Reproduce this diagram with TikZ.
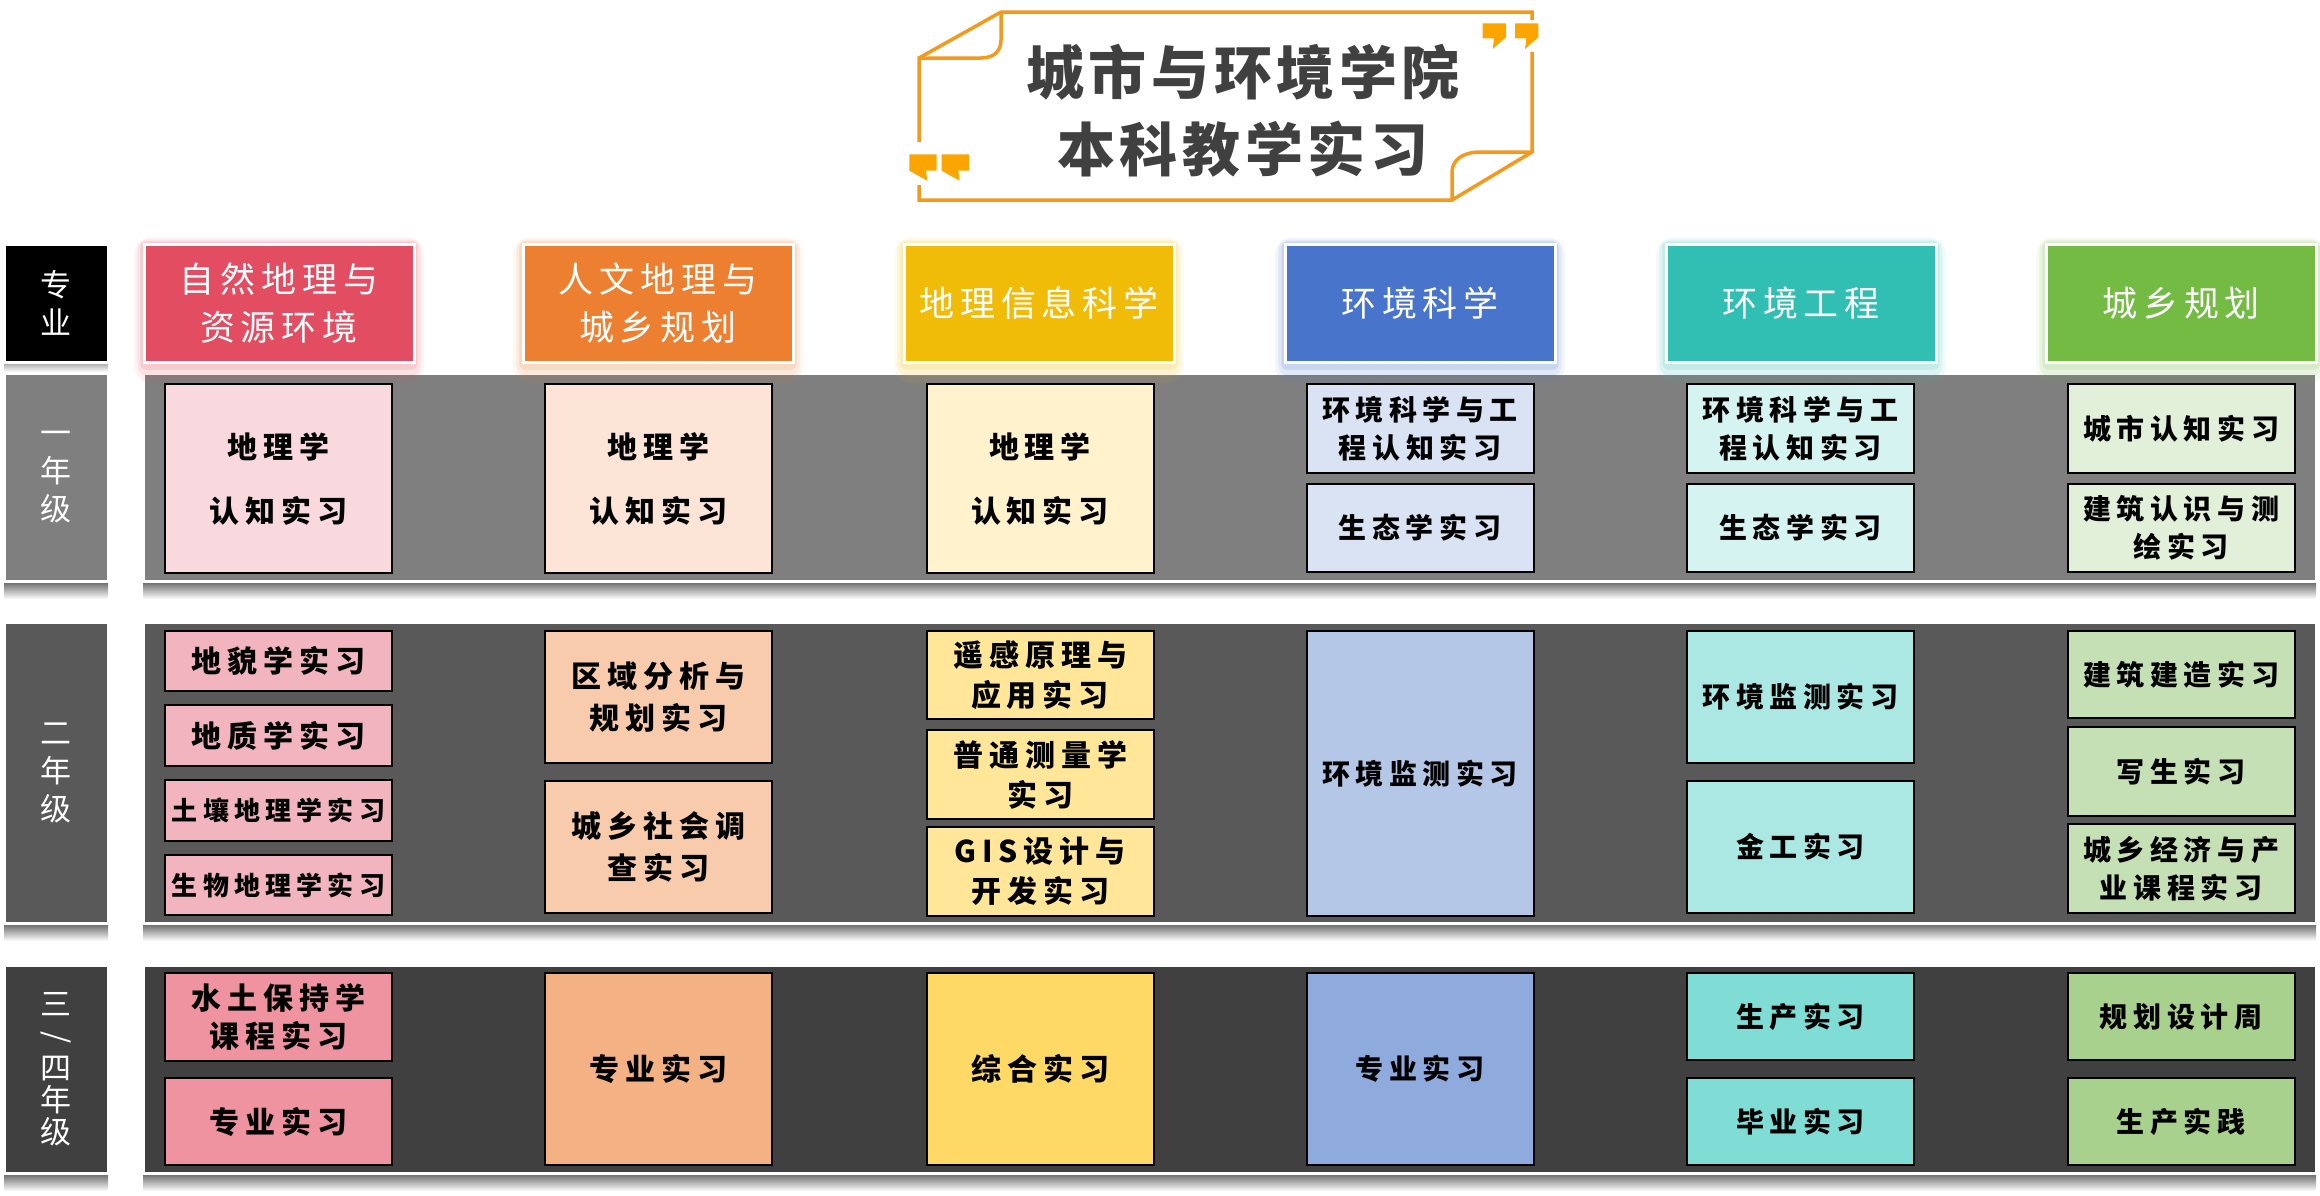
\documentclass[tikz,border=0pt]{standalone}
\usepackage{fontspec}
\usepackage{graphicx}
\setmainfont{Noto Sans CJK SC}
\newfontfamily\hfont{Noto Sans CJK SC}[LetterSpace=17]
\newfontfamily\bfont{Noto Sans CJK SC}[LetterSpace=20]
\newfontfamily\tfont{Noto Sans CJK SC}[LetterSpace=8]
\newfontfamily\lfont{Noto Sans CJK SC}
\newcommand\bx[2]{\bfont\bfseries\fontsize{#1}{#2}\selectfont}
\newcommand\hx[2]{\hfont\fontsize{#1}{#2}\selectfont}
\definecolor{frameor}{HTML}{F39A1E}
\definecolor{quoteor}{HTML}{FBA600}
\definecolor{titlec}{HTML}{404040}
\definecolor{hA}{HTML}{E34D61}\definecolor{hB}{HTML}{ED8030}\definecolor{hC}{HTML}{F0BC07}
\definecolor{hD}{HTML}{4874CB}\definecolor{hE}{HTML}{31BFB4}\definecolor{hF}{HTML}{74BB44}
\definecolor{rA}{HTML}{7F7F7F}\definecolor{rB}{HTML}{595959}\definecolor{rC}{HTML}{404040}
\definecolor{a1}{HTML}{F9D9DE}\definecolor{a2}{HTML}{F2B5C0}\definecolor{a3}{HTML}{EE939F}
\definecolor{b1}{HTML}{FCE4D6}\definecolor{b2}{HTML}{F8CBAD}\definecolor{b3}{HTML}{F4B183}
\definecolor{c1}{HTML}{FFF2CC}\definecolor{c2}{HTML}{FFE699}\definecolor{c3}{HTML}{FFD966}
\definecolor{d1}{HTML}{DAE3F3}\definecolor{d2}{HTML}{B4C7E7}\definecolor{d3}{HTML}{8FAADC}
\definecolor{e1}{HTML}{D5F3F1}\definecolor{e2}{HTML}{ACE8E3}\definecolor{e3}{HTML}{7FDDD6}
\definecolor{f1}{HTML}{E2F0D9}\definecolor{f2}{HTML}{C5E0B4}\definecolor{f3}{HTML}{A9D18E}
\tikzset{
  frame/.style={draw=frameor, line width=3.5pt},
  quote/.style={fill=quoteor, draw=none},
  hdr/.style={draw=white, line width=3pt, minimum width=270pt, minimum height=118pt,
    text=white, align=center, inner sep=0pt, font={\hx{35}{48}}},
  lab/.style={draw=white, line width=3pt, minimum width=104pt, text=white,
    align=center, inner sep=0pt, font={\lfont\fontsize{31}{38}\selectfont}},
  panel/.style={draw=white, line width=3pt, minimum width=2173pt, inner sep=0pt},
  ibox/.style={draw=black, line width=2pt, minimum width=227pt, align=center,
    inner sep=0pt, text=black, font={\bx{28}{38}}},
  big/.style={font={\bx{30}{40}}},
}
\begin{document}
\begin{tikzpicture}[x=1pt,y=-1pt]
\useasboundingbox (0,0) rectangle (2320,1195);
% ---------- title ----------
\draw[frame] (919,142) -- (919,58) -- (981,58) .. controls (994,58) and (1001,51) .. (1001,40) -- (1001,12);
\draw[frame] (919,58) -- (1001,12) -- (1532,12) -- (1532,20);
\draw[frame] (1532,52) -- (1532,152) -- (1452,200) -- (919,200) -- (919,185);
\draw[frame] (1532,152) -- (1480,152) .. controls (1463,152) and (1452,160) .. (1452,172) -- (1452,200);
\fill[quote] (1482.7,23.3) -- (1506,23.3) -- (1506,37.3) -- (1492.7,49) -- (1494,38.3) -- (1482.7,38.3) -- cycle;
\fill[quote] (1515,23.3) -- (1538.3,23.3) -- (1538.3,37.3) -- (1525,49) -- (1526.3,38.3) -- (1515,38.3) -- cycle;
\fill[quote] (909.3,154.3) -- (936.7,154.3) -- (936.7,170.7) -- (926,170.7) -- (927.3,180.7) -- (909.3,170.7) -- cycle;
\fill[quote] (941.6,154.3) -- (969,154.3) -- (969,170.7) -- (958.3,170.7) -- (959.6,180.7) -- (941.6,170.7) -- cycle;
\node[font={\tfont\bfseries\fontsize{58}{60}\selectfont}, text=titlec] (t1) at (1243,72) {城市与环境学院};
\node[font={\tfont\bfseries\fontsize{58}{60}\selectfont}, text=titlec] (t2) at (1243,149) {本科教学实习};
% ---------- shadows under panels and labels ----------
\foreach \yb in {581,923,1173}{
  \shade[top color=black!55, bottom color=white] (143,\yb+2) rectangle (2316,\yb+18);
  \shade[top color=black!55, bottom color=white] (4,\yb+2) rectangle (108,\yb+18);
}
\shade[top color=black!30, bottom color=white] (4,364) rectangle (108,372);
% ---------- panels ----------
\node[panel, fill=rA, minimum height=208pt] (p1) at (1229.5,477) {};
\node[panel, fill=rB, minimum height=301pt] (p2) at (1229.5,772.5) {};
\node[panel, fill=rC, minimum height=208pt] (p3) at (1229.5,1069) {};
\node[lab, fill=black, minimum height=118pt] (l0) at (56,303) {专\\业};
\node[lab, fill=rA, minimum height=208pt] (l1) at (56,477) {一\\年\\级};
\node[lab, fill=rB, minimum height=301pt] (l2) at (56,772.5) {二\\年\\级};
\node[lab, fill=rC, minimum height=208pt, font={\lfont\fontsize{31}{32}\selectfont}] (l3) at (56,1069) {三\\\rotatebox[origin=c]{-90}{/}\\四\\年\\级};
% ---------- header glows ----------
\foreach \cx/\cc in {279/hA,658/hB,1039/hC,1420/hD,1801/hE,2181/hF}{
  \foreach \k/\op in {16/0.07,11/0.10,6/0.16}{
    \fill[\cc, opacity=\op, rounded corners=\k pt] (\cx-135-\k*0.6,244-\k*0.4) rectangle (\cx+135+\k*0.6,362+\k*1.3);
  }
}
% ---------- headers ----------
\node[hdr, fill=hA] (hA) at (279,303) {自然地理与\\资源环境};
\node[hdr, fill=hB] (hB) at (658,303) {人文地理与\\城乡规划};
\node[hdr, fill=hC] (hC) at (1039,303) {地理信息科学};
\node[hdr, fill=hD] (hD) at (1420,303) {环境科学};
\node[hdr, fill=hE] (hE) at (1801,303) {环境工程};
\node[hdr, fill=hF] (hF) at (2181,303) {城乡规划};
% ---------- row 1 ----------
\node[ibox, big, fill=a1, minimum height=189pt, font={\bx{30}{64}}] (a11) at (278.5,478.5) {地理学\\认知实习};
\node[ibox, big, fill=b1, minimum height=189pt, font={\bx{30}{64}}] (b11) at (658.5,478.5) {地理学\\认知实习};
\node[ibox, big, fill=c1, minimum height=189pt, font={\bx{30}{64}}] (c11) at (1040,478.5) {地理学\\认知实习};
\node[ibox, fill=d1, minimum height=89pt] (d11) at (1420,428.5) {环境科学与工\\程认知实习};
\node[ibox, fill=d1, minimum height=88pt] (d12) at (1420,528) {生态学实习};
\node[ibox, fill=e1, minimum height=89pt] (e11) at (1800.5,428.5) {环境科学与工\\程认知实习};
\node[ibox, fill=e1, minimum height=88pt] (e12) at (1800.5,528) {生态学实习};
\node[ibox, fill=f1, minimum height=89pt] (f11) at (2181,428.5) {城市认知实习};
\node[ibox, fill=f1, minimum height=88pt] (f12) at (2181,528) {建筑认识与测\\绘实习};
% ---------- row 2 ----------
\node[ibox, big, fill=a2, minimum height=60pt] (a21) at (278.5,661) {地貌学实习};
\node[ibox, big, fill=a2, minimum height=61pt] (a22) at (278.5,735.5) {地质学实习};
\node[ibox, fill=a2, minimum height=61pt, font={\bx{26}{30}}] (a23) at (278.5,810.5) {土壤地理学实习};
\node[ibox, fill=a2, minimum height=60pt, font={\bx{26}{30}}] (a24) at (278.5,885) {生物地理学实习};
\node[ibox, big, fill=b2, minimum height=132pt, font={\bx{30}{42}}] (b21) at (658.5,697) {区域分析与\\规划实习};
\node[ibox, big, fill=b2, minimum height=132pt, font={\bx{30}{42}}] (b22) at (658.5,847) {城乡社会调\\查实习};
\node[ibox, big, fill=c2, minimum height=88pt] (c21) at (1040,675) {遥感原理与\\应用实习};
\node[ibox, big, fill=c2, minimum height=89pt] (c22) at (1040,774.5) {普通测量学\\实习};
\node[ibox, big, fill=c2, minimum height=89pt] (c23) at (1040,871.5) {GIS设计与\\开发实习};
\node[ibox, fill=d2, minimum height=285pt] (d21) at (1420,773.5) {环境监测实习};
\node[ibox, fill=e2, minimum height=132pt] (e21) at (1800.5,697) {环境监测实习};
\node[ibox, fill=e2, minimum height=132pt] (e22) at (1800.5,847) {金工实习};
\node[ibox, fill=f2, minimum height=87pt] (f21) at (2181,674.5) {建筑建造实习};
\node[ibox, fill=f2, minimum height=89pt] (f22) at (2181,771.5) {写生实习};
\node[ibox, fill=f2, minimum height=89pt] (f23) at (2181,868.5) {城乡经济与产\\业课程实习};
% ---------- row 3 ----------
\node[ibox, big, fill=a3, minimum height=88pt, font={\bx{30}{38}}] (a31) at (278.5,1017) {水土保持学\\课程实习};
\node[ibox, big, fill=a3, minimum height=87pt] (a32) at (278.5,1121.5) {专业实习};
\node[ibox, big, fill=b3, minimum height=192pt] (b31) at (658.5,1069) {专业实习};
\node[ibox, big, fill=c3, minimum height=192pt] (c31) at (1040,1069) {综合实习};
\node[ibox, fill=d3, minimum height=192pt] (d31) at (1420,1069) {专业实习};
\node[ibox, fill=e3, minimum height=87pt] (e31) at (1800.5,1016.5) {生产实习};
\node[ibox, fill=e3, minimum height=87pt] (e32) at (1800.5,1121.5) {毕业实习};
\node[ibox, fill=f3, minimum height=87pt] (f31) at (2181,1016.5) {规划设计周};
\node[ibox, fill=f3, minimum height=87pt] (f32) at (2181,1121.5) {生产实践};
\end{tikzpicture}
\end{document}
